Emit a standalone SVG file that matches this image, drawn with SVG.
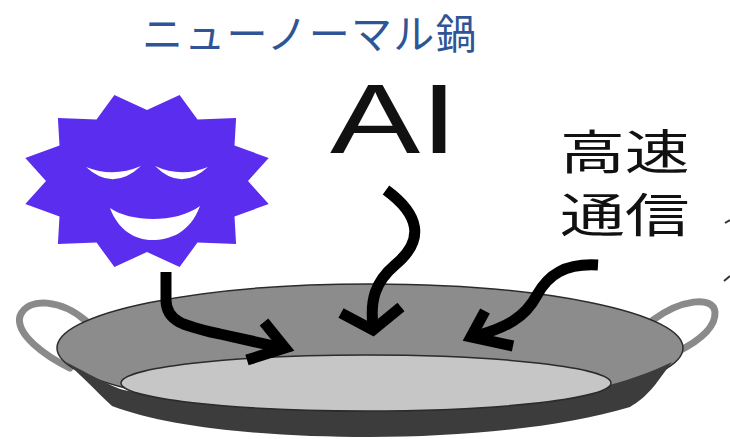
<svg xmlns="http://www.w3.org/2000/svg" width="730" height="439" viewBox="0 0 730 439">
  <style>
    .title { font-family: "Noto Sans CJK JP", "Liberation Serif", serif; font-size: 41px; letter-spacing: 1.3px; fill: #2f5597; }
    .label { font-family: "Liberation Sans", "Noto Sans CJK JP", sans-serif; fill: #111; }
    .jp { font-family: "Noto Sans CJK JP", "Liberation Sans", sans-serif; fill: #111; font-size: 47px; }
    .arrow { fill: none; stroke: #000; stroke-width: 11; stroke-linecap: butt; stroke-linejoin: miter; }
    .handle { fill: none; stroke: #8a8a8a; stroke-width: 7; stroke-linecap: round; }
    .outline { stroke: #2b2b2b; stroke-width: 1.5; }
  </style>

  <rect width="730" height="439" fill="#fff"/>

  <!-- Heading -->
  <g id="title">
    <text class="title" x="142" y="48.5">ニューノーマル鍋</text>
  </g>

  <!-- Smiling sun face -->
  <g id="sun">
    <polygon fill="#5b2def" points="268.7,158 248,181 268.7,204 234.5,216.5 236.1,243.9 197.5,242.5 179.6,267 147,252 114.4,267 96.5,242.5 57.9,243.9 59.5,216.5 25.3,204 46,181 25.3,158 59.5,145.5 57.9,118.1 96.5,119.5 114.4,95 147,110 179.6,95 197.5,119.5 236.1,118.1 234.5,145.5"/>
    <path fill="#fff" d="M86,167 Q113,178 141,166 Q113,192 86,167 Z"/>
    <path fill="#fff" d="M155,166 Q181,178 208,167 Q181,192 155,166 Z"/>
    <path fill="#fff" d="M110,208 C130,222 175,224 200,206 C190,233 170,240 152,240 C135,240 118,230 110,208 Z"/>
  </g>

  <!-- AI label -->
  <g id="ai">
    <text class="label" font-size="98" transform="translate(330,153) scale(1.38,1)" x="0" y="0">AI</text>
  </g>

  <!-- High-speed communication label -->
  <g id="comm">
    <text class="jp" transform="translate(560,169) scale(1.38,1)" x="0" y="0">高速</text>
    <text class="jp" transform="translate(560,232) scale(1.38,1)" x="0" y="0">通信</text>
  </g>

  <!-- Paella pan -->
  <g id="pan">
    <path class="handle" d="M86,321 C62,300 28,296 20,316 C15,334 45,356 70,368"/>
    <path class="handle" d="M653,320 C680,300 713,295 715,312 C716,328 697,342 677,352"/>
    <ellipse class="outline" cx="370" cy="348" rx="313" ry="64" fill="#8c8c8c"/>
    <path fill="#3c3c3c" d="M66,362 C100,380 115,388 124,390 C200,406 280,412 366,412 C480,412 600,398 672,362 L655,385 C645,397 638,402 630,407 C560,428 460,437 370,437 C270,437 170,428 112,406 C95,390 84,378 66,362 Z"/>
    <ellipse class="outline" cx="366" cy="383" rx="245" ry="28" fill="#c6c6c6"/>
  </g>

  <!-- Arrows into the pan -->
  <g id="connectors">
    <path class="arrow" d="M166,272 L166,300 C166,322 185,326 220,334 L283,348"/>
    <path class="arrow" d="M264,322 L285,348 L247,360"/>
    <path class="arrow" d="M386,190 C420,215 425,240 395,265 C375,282 370,300 373,326"/>
    <path class="arrow" d="M341,313 L373,330 L401,307"/>
    <path class="arrow" d="M598,265 C565,263 548,275 537,295 C525,318 505,328 476,336"/>
    <path class="arrow" d="M485,311 L471,337 L513,346"/>
    <path stroke="#333" stroke-width="2" d="M725,223 L730,220"/>
    <path stroke="#333" stroke-width="2" d="M724,281 L730,276"/>
  </g>
</svg>
